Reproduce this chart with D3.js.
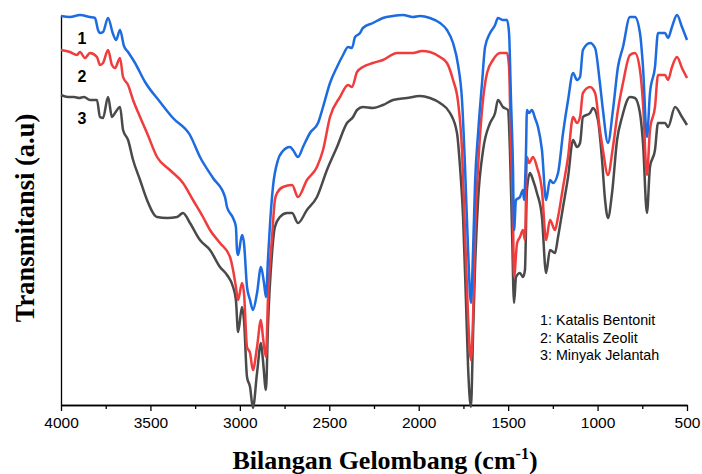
<!DOCTYPE html>
<html>
<head>
<meta charset="utf-8">
<script src="https://cdn.jsdelivr.net/npm/d3@7"></script>
<style>
body { margin: 0; background: #fff; }
svg { display: block; }
.axis text { font-family: "Liberation Sans", Arial, sans-serif; font-size: 15.5px; fill: #000; }
.axis path, .axis line { stroke: #000; stroke-width: 1.3; }
</style>
</head>
<body>
<svg></svg>
<script>
var screen = {width: 702, height: 474};
var margins = {top: 15, right: 15, bottom: 69, left: 61};

var tickValues = [4000, 3500, 3000, 2500, 2000, 1500, 1000, 500];
var minorTicks = [3750, 3250, 2750, 2250, 1750, 1250, 750];
var seriesNames = ["1: Katalis Bentonit", "2: Katalis Zeolit", "3: Minyak Jelantah"];
var seriesLabels = ["1", "2", "3"];
var colors = ["#1c6be0", "#f03c3c", "#4a4a4a"];

// [bilangan gelombang, transmitansi (a.u)]
var bentonit = [
[4000,389],[3950,388],[3894,390],[3838,388],[3810,387],[3793,375],[3782,372],[3765,373],[3737,387],[3709,371],
[3692,365],[3670,375],[3648,359],[3625,353],[3586,342],[3530,323],[3446,303],[3374,287],[3279,270],[3223,248],
[3150,227],[3083,208],[3072,198],[3038,187],[3022,178],[3016,155],[3010,150],[2988,170],[2977,162],[2960,118],
[2943,105],[2927,95],[2904,112],[2882,138],[2865,122],[2854,108],[2843,145],[2826,195],[2815,218],[2787,245],
[2764,253],[2720,258],[2703,255],[2675,248],[2647,258],[2608,272],[2563,282],[2535,298],[2496,322],[2457,338],
[2423,350],[2395,358],[2373,357],[2356,368],[2328,372],[2312,377],[2256,382],[2200,387],[2144,389],[2088,390],
[2032,388],[1993,389],[1937,387],[1881,382],[1842,375],[1808,362],[1780,340],[1758,305],[1741,238],[1724,155],
[1708,102],[1696,155],[1685,222],[1668,272],[1646,322],[1629,358],[1601,372],[1573,380],[1557,387],[1529,385],
[1506,385],[1495,372],[1484,305],[1473,238],[1467,175],[1456,205],[1434,208],[1417,215],[1411,205],[1400,255],
[1395,295],[1383,292],[1367,295],[1350,287],[1333,278],[1311,255],[1288,205],[1266,225],[1249,222],[1221,232],
[1193,272],[1165,305],[1137,332],[1115,325],[1098,328],[1082,355],[1042,362],[1014,357],[987,322],[970,295],
[942,262],[914,295],[886,338],[858,358],[819,388],[791,388],[763,372],[746,338],[724,268],[707,312],
[679,338],[662,372],[623,372],[606,367],[584,378],[556,390],[528,378],[500,365]
];

var zeolit = [
[4000,355],[3950,353],[3911,350],[3894,353],[3866,347],[3838,352],[3799,348],[3782,340],[3765,342],[3737,355],
[3715,340],[3698,337],[3670,347],[3653,328],[3625,320],[3597,305],[3558,288],[3519,272],[3463,248],[3391,235],
[3318,222],[3262,205],[3206,188],[3167,175],[3111,162],[3055,148],[3038,135],[3022,118],[3010,105],[2988,122],
[2977,112],[2960,58],[2943,52],[2927,35],[2904,58],[2882,85],[2871,68],[2854,48],[2843,105],[2820,168],
[2804,205],[2792,212],[2759,218],[2708,220],[2675,208],[2625,225],[2569,238],[2535,255],[2496,288],[2440,308],
[2395,320],[2373,318],[2345,333],[2312,338],[2256,342],[2200,345],[2121,352],[2066,352],[2032,352],[1982,354],
[1937,353],[1881,348],[1842,342],[1808,325],[1780,303],[1758,255],[1741,172],[1724,88],[1708,45],[1696,88],
[1685,172],[1668,238],[1646,295],[1618,332],[1585,345],[1546,352],[1506,352],[1495,338],[1484,255],[1473,188],
[1467,128],[1450,162],[1434,168],[1417,175],[1406,165],[1395,248],[1383,242],[1361,248],[1339,238],[1311,215],
[1288,165],[1266,185],[1238,175],[1221,188],[1193,218],[1165,248],[1137,288],[1115,282],[1098,288],[1082,312],
[1042,318],[1014,312],[987,275],[970,255],[942,230],[914,258],[886,295],[858,322],[819,350],[791,352],
[763,335],[746,302],[724,230],[707,275],[679,298],[662,330],[623,330],[606,325],[584,338],[556,348],
[528,337],[500,327]
];

var jelantah = [
[4000,310],[3961,308],[3927,308],[3899,307],[3871,308],[3838,305],[3799,305],[3782,288],[3765,287],[3737,308],
[3715,288],[3698,292],[3670,298],[3653,275],[3625,265],[3597,245],[3558,225],[3519,205],[3463,188],[3407,187],
[3351,188],[3318,192],[3279,182],[3223,165],[3167,155],[3111,138],[3072,130],[3038,118],[3022,105],[3010,73],
[2988,98],[2977,85],[2960,28],[2943,18],[2927,-3],[2904,32],[2882,62],[2871,45],[2854,15],[2843,78],
[2820,152],[2804,178],[2776,188],[2736,192],[2708,192],[2675,182],[2625,195],[2569,208],[2513,235],[2457,258],
[2401,282],[2367,288],[2345,295],[2312,298],[2256,297],[2200,300],[2144,305],[2066,307],[1993,309],[1937,307],
[1881,302],[1825,292],[1786,272],[1769,238],[1752,188],[1736,105],[1724,38],[1708,-2],[1696,72],[1685,138],
[1668,205],[1640,255],[1601,282],[1573,292],[1557,305],[1529,298],[1501,295],[1490,255],[1478,172],[1467,102],
[1456,128],[1434,132],[1417,128],[1406,135],[1395,215],[1378,232],[1361,225],[1339,212],[1311,188],[1288,132],
[1266,155],[1238,152],[1221,168],[1193,198],[1165,228],[1137,265],[1115,258],[1098,262],[1082,288],[1042,292],
[1026,297],[998,285],[975,245],[958,205],[942,187],[919,212],[891,265],[863,288],[819,308],[791,307],
[763,292],[746,262],[724,192],[707,238],[679,255],[662,282],[623,282],[606,278],[567,298],[528,288],
[500,280]
];

var setup = function()
{
    var svg = d3.select("body").select("svg")
    .attr("width", screen.width)
    .attr("height", screen.height);

    var width = screen.width - margins.left - margins.right;
    var height = screen.height - margins.top - margins.bottom;

    var xScale = d3.scaleLinear().domain([4000, 500]).range([margins.left, 687]);
    var yScale = d3.scaleLinear().domain([0, 390]).range([margins.top + height, margins.top]);

    var xAxis = d3.axisBottom(xScale).tickValues(tickValues).tickSize(6).tickSizeOuter(0).tickPadding(6)
    .tickFormat(d3.format("d"));
    var xMinor = d3.axisBottom(xScale).tickValues(minorTicks).tickSize(4).tickSizeOuter(0).tickFormat("");
    var yAxis = d3.axisLeft(yScale).tickValues([]).tickSizeOuter(0);

    svg.append("g").classed("axis", true)
    .attr("transform", "translate(0," + (margins.top + height) + ")")
    .call(xMinor);

    svg.append("g").classed("axis", true)
    .attr("id", "xAxis")
    .attr("transform", "translate(0," + (margins.top + height) + ")")
    .call(xAxis);

    svg.append("g").classed("axis", true)
    .attr("id", "yAxis")
    .attr("transform", "translate(" + margins.left + ",0)")
    .call(yAxis);

    drawSpectra(svg, xScale, yScale);
    drawText(svg, xScale, yScale);
}

var drawSpectra = function(svg, xScale, yScale)
{
    var series = [bentonit, zeolit, jelantah];
    var line = d3.line()
    .x(function(d){ return xScale(d[0]); })
    .y(function(d){ return yScale(d[1]); })
    .curve(d3.curveMonotoneX);

    // gray first so blue ends up on top
    [2, 1, 0].forEach(function(i)
    {
        svg.append("path")
        .datum(series[i])
        .attr("d", line)
        .attr("fill", "none")
        .attr("stroke", colors[i])
        .attr("stroke-width", 2.5)
        .attr("stroke-linejoin", "round");
    });
}

var drawText = function(svg, xScale, yScale)
{
    svg.selectAll(".num")
    .data(seriesLabels)
    .enter()
    .append("text")
    .attr("x", 82)
    .attr("y", function(d, i){ return [44, 82, 124][i]; })
    .attr("text-anchor", "middle")
    .style("font-family", "'Liberation Sans', Arial, sans-serif")
    .style("font-weight", "bold")
    .style("font-size", "16px")
    .text(function(d){ return d; });

    svg.selectAll(".legend")
    .data(seriesNames)
    .enter()
    .append("text")
    .attr("x", 540)
    .attr("y", function(d, i){ return 325 + i * 17.5; })
    .style("font-family", "'Liberation Sans', Arial, sans-serif")
    .style("font-size", "14.3px")
    .text(function(d){ return d; });

    var xTitle = svg.append("text")
    .attr("x", 385)
    .attr("y", 469)
    .attr("text-anchor", "middle")
    .style("font-family", "'Liberation Serif', 'Times New Roman', serif")
    .style("font-weight", "bold")
    .style("font-size", "26px");
    xTitle.append("tspan").text("Bilangan Gelombang (cm");
    xTitle.append("tspan").attr("dy", -10).style("font-size", "16px").text("-1");
    xTitle.append("tspan").attr("dy", 10).text(")");

    svg.append("text")
    .attr("transform", "translate(34,218) rotate(-90)")
    .attr("text-anchor", "middle")
    .style("font-family", "'Liberation Serif', 'Times New Roman', serif")
    .style("font-weight", "bold")
    .style("font-size", "26.5px")
    .text("Transmitansi (a.u)");
}

setup();
</script>
</body>
</html>
